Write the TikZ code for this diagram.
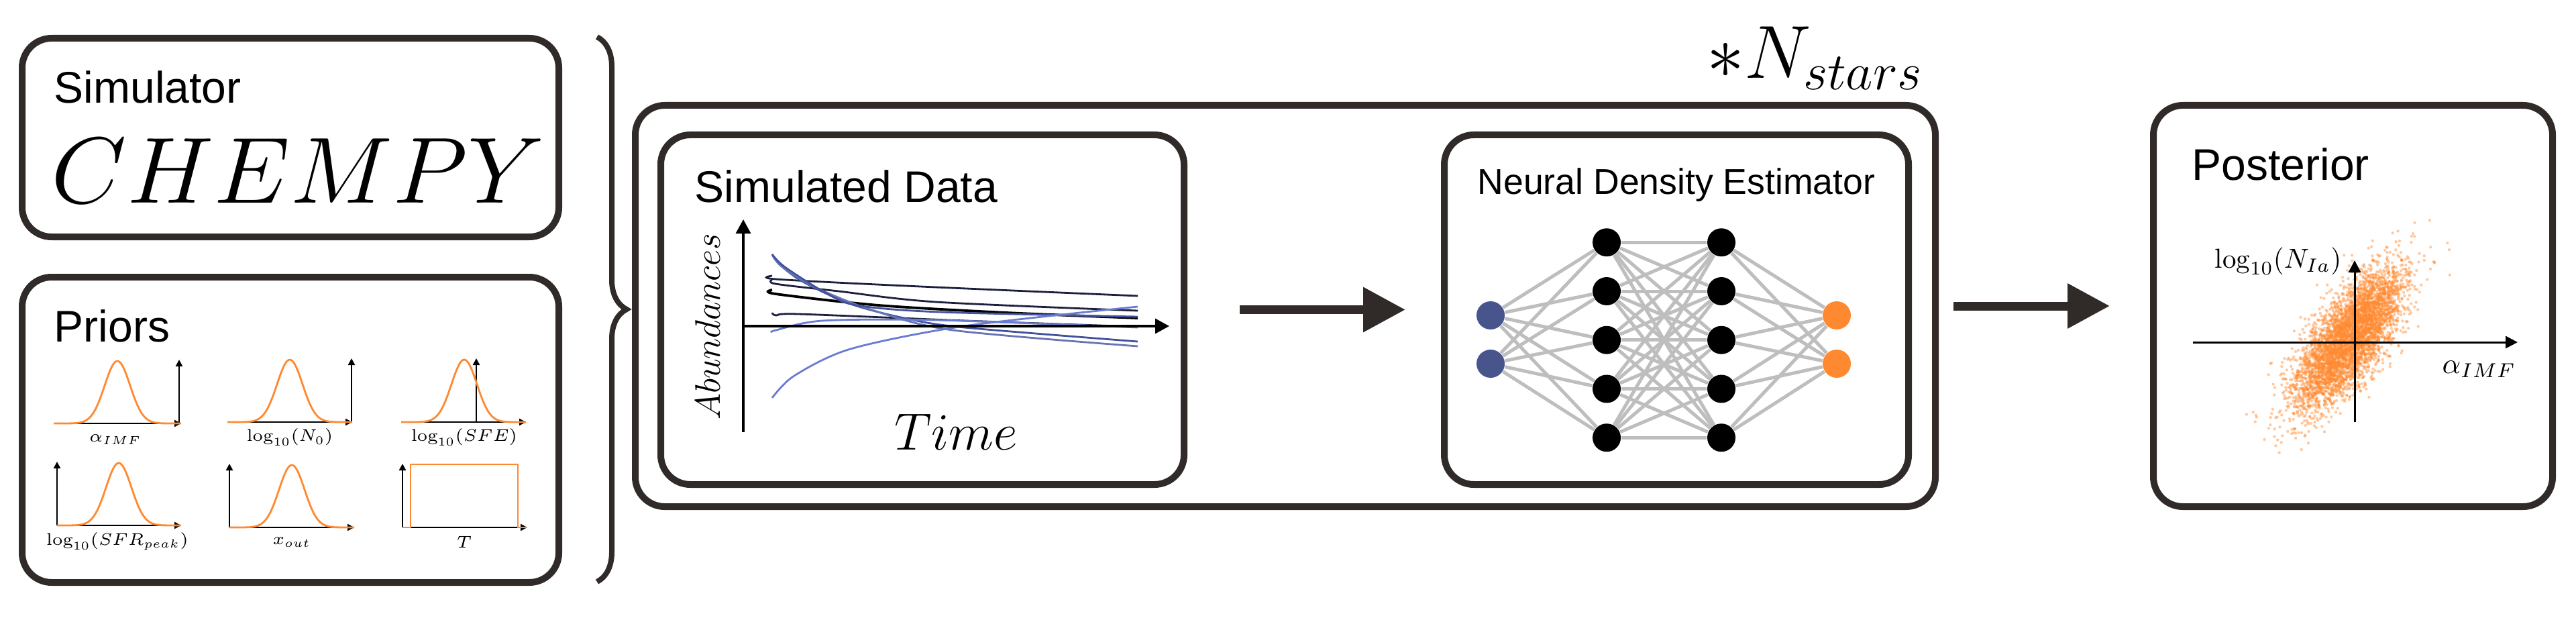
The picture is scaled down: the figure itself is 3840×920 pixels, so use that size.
\RequirePackage{fix-cm}
\documentclass[tikz,border=0pt]{standalone}
\usepackage{amsmath}
\usepackage{fontspec}
\newfontfamily\helvet{Liberation Sans}
\usetikzlibrary{arrows.meta,fit,decorations.pathreplacing}
\definecolor{charcoal}{RGB}{48, 42, 41}
\definecolor{carrot}{RGB}{255, 137, 48}
\definecolor{midnight}{RGB}{72, 84, 140}
\definecolor{navyblue}{RGB}{28, 32, 62}
\definecolor{denim}{RGB}{66, 82, 158}
\definecolor{cornflower}{RGB}{106, 124, 208}
\definecolor{silver}{RGB}{190, 190, 190}

\tikzset{
  panel/.style={draw=charcoal, line width=2.5pt, rounded corners=11pt, inner sep=0pt},
  heading/.style={font=\helvet\fontsize{16.5}{20}\selectfont, inner sep=0pt, anchor=base west},
  flow/.style={draw=charcoal, line width=3.25pt, -{Triangle[length=15.75pt,width=16pt]}},
  prior/.style={carrot, line width=0.7pt},
  paxis/.style={line width=0.6pt, -{Triangle[length=2.5pt,width=2.5pt]}},
  plabel/.style={font=\fontsize{6.3}{7.5}\selectfont, inner sep=0pt},
  daxis/.style={line width=0.85pt, -{Triangle[length=5.25pt,width=5.5pt]}},
  qaxis/.style={line width=0.75pt, -{Triangle[length=4.5pt,width=4.5pt]}},
  track/.style={line width=0.7pt},
  neuron/.style={circle, minimum size=10.5pt, inner sep=0pt},
  synapse/.style={silver, line width=1.25pt},
  scat/.style={carrot, fill opacity=0.45}
}

\begin{document}
\begin{tikzpicture}[x=0.25pt, y=-0.25pt]
            \useasboundingbox (0,0) rectangle (3840,920);
            \node[panel, fit={(33,57) (833,353)}]      (sim)     {};
            \node[panel, fit={(33,413) (833,868)}]     (priors)  {};
            \node[panel, fit={(947,157) (2885,755)}]   (loop)    {};
            \node[panel, fit={(985,201) (1765,722)}]   (simdata) {};
            \node[panel, fit={(2153,201) (2845,722)}]  (nde)     {};
            \node[panel, fit={(3210,157) (3805,755)}]  (post)    {};

            \node[heading] (simtitle)   at (80,153)   {Simulator};
            \node[inner sep=0pt, anchor=base west, xscale=1.04, font=\fontsize{35}{40}\selectfont] (chempy) at (76,302) {$CHEMPY$};
            \node[heading] (priortitle) at (80,509)   {Priors};
            \node[heading] (datatitle)  at (1035,301) {Simulated Data};
            \node[heading, anchor=base, font=\helvet\fontsize{13.4}{16}\selectfont] (ndetitle) at (2499,289) {Neural Density Estimator};
            \node[heading] (posttitle)  at (3267,268) {Posterior};
            \node[inner sep=0pt, anchor=base east, font=\fontsize{28}{32}\selectfont] (nstars) at (2868,117) {$*N_{stars}$};

            \draw[charcoal, line width=2pt, decorate, decoration={brace, amplitude=11pt}] (890,55) -- (890,867);

            \foreach \xa/\xb/\yb/\xv/\xc in {80/270/631/267/175, 339/525/629/524/432, 598/784/629/710/692, 85/270/783/85/177, 342/528/786/342/435}{
              \draw[paxis] (\xa,\yb) -- (\xb,\yb);
              \draw[paxis] (\xv,\yb) -- (\xv,\yb-95);
              \draw[prior] plot[domain=\xa:\xb, samples=80] (\x, {\yb-93*exp(-((\x-\xc)^2)/722)});
            }
            \draw[paxis] (600,786) -- (786,786);
            \draw[paxis] (600,786) -- (600,691);
            \draw[prior] (600,786) -- (612,786) -- (612,692) -- (772,692) -- (772,786) -- (786,786);
            \node[plabel] (la) at (172,655) {$\alpha_{IMF}$};
            \node[plabel] (lb) at (432,652) {$\log_{10}(N_0)$};
            \node[plabel] (lc) at (692,652) {$\log_{10}(SFE)$};
            \node[plabel] (ld) at (175,807) {$\log_{10}(SFR_{peak})$};
            \node[plabel] (le) at (435,808) {$x_{out}$};
            \node[plabel] (lf) at (692,808) {$T$};

            \draw[track, navyblue]   plot[smooth] coordinates {(1151,411) (1156,416) (1350,426) (1696,441)};
            \draw[track, navyblue]   plot[smooth] coordinates {(1151,417) (1156,423) (1250,434) (1395,450) (1696,463)};
            \draw[track, black, line width=0.95pt] plot[smooth] coordinates {(1151,432) (1156,438) (1310,455) (1500,466) (1696,474)};
            \draw[track, navyblue]   plot[smooth] coordinates {(1151,466) (1157,470) (1190,468) (1440,478) (1696,487)};
            \draw[track, denim]      plot[smooth] coordinates {(1151,379) (1162,394) (1197,420) (1268,453) (1352,475) (1437,488) (1696,509)};
            \draw[track, denim!80]   plot[smooth] coordinates {(1151,379) (1165,397) (1215,428) (1300,462) (1420,492) (1696,516)};
            \draw[track, denim]      plot[smooth] coordinates {(1151,379) (1170,398) (1230,436) (1277,455) (1400,465) (1696,472)};
            \draw[track, cornflower] plot[smooth] coordinates {(1151,495) (1157,492) (1226,478) (1395,477) (1696,488)};
            \draw[track, cornflower] plot[smooth] coordinates {(1151,593) (1184,560) (1268,520) (1437,486) (1696,457)};
            \draw[daxis] (1108,644) -- (1108,327);
            \draw[daxis] (1108,486) -- (1743,486);
            \node[rotate=90, inner sep=0pt, font=\fontsize{13.25}{15}\selectfont] (abund) at (1055,487) {$Abundances$};
            \node[anchor=base, inner sep=0pt, font=\fontsize{19.5}{22}\selectfont] (time) at (1425,670) {$Time$};

            \foreach \i/\y in {1/470, 2/542}{
              \node[neuron, fill=midnight] (in\i)  at (2222,\y) {};
              \node[neuron, fill=carrot]   (out\i) at (2738,\y) {};
            }
            \foreach \i in {1,...,5}{
              \node[neuron, fill=black] (ha\i) at (2395,{288.5+72.75*\i}) {};
              \node[neuron, fill=black] (hb\i) at (2566,{288.5+72.75*\i}) {};
            }
            \foreach \i in {1,2}
              \foreach \j in {1,...,5}{
                \draw[synapse] (in\i) -- (ha\j);
                \draw[synapse] (hb\j) -- (out\i);
              }
            \foreach \i in {1,...,5}
              \foreach \j in {1,...,5}
                \draw[synapse] (ha\i) -- (hb\j);

            \pgfmathsetseed{7}
            \foreach \k in {1,...,4500}{
              \pgfmathsetmacro\ua{0.0005+0.999*rnd}
              \pgfmathsetmacro\ub{360*rnd}
              \pgfmathsetmacro\rr{sqrt(-2*ln(\ua))}
              \pgfmathsetmacro\za{\rr*cos(\ub)}
              \pgfmathsetmacro\zb{\rr*sin(\ub)}
              \fill[scat] ({3502+35.6*\za+19.7*\zb}, {505-50.8*\za+13.8*\zb}) circle (0.55pt);
            }
            \draw[qaxis] (3269,510) -- (3753,510);
            \draw[qaxis] (3510,629) -- (3510,388);
            \node[inner sep=0pt, anchor=base east, font=\fontsize{10.25}{12}\selectfont] (ylab) at (3491,399) {$\log_{10}(N_{Ia})$};
            \node[inner sep=0pt, anchor=base east, font=\fontsize{10.75}{12}\selectfont] (xlab) at (3751,556) {$\alpha_{IMF}$};

            \draw[flow, shorten <=19.5pt, shorten >=13.25pt] (simdata.east) -- (nde.west);
            \draw[flow, shorten <=5.5pt, shorten >=15pt]     (loop.east)    -- (post.west);
            \end{tikzpicture}
\end{document}
